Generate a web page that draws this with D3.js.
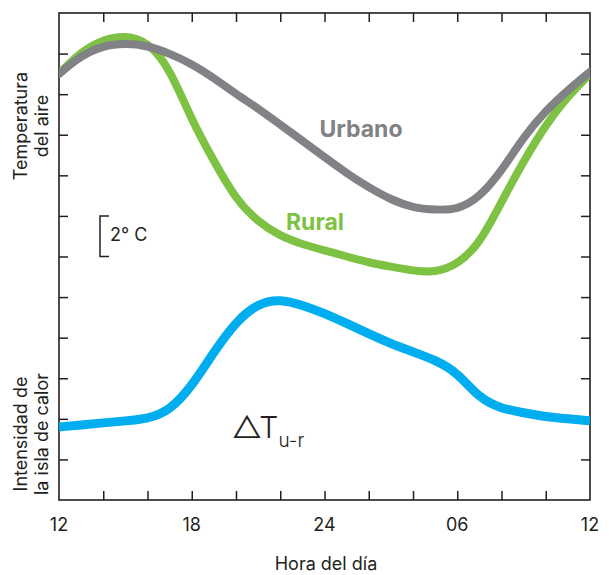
<!DOCTYPE html>
<html>
<head>
<meta charset="utf-8">
<script src="https://cdn.jsdelivr.net/npm/d3@7"></script>
<style>
  body { margin: 0; background: #fff; }
  svg { display: block; font-family: "Inter", "DejaVu Sans", sans-serif; }
</style>
</head>
<body>
<div id="chart"></div>
<script>
// hora del día (12 = mediodía, 36 = mediodía del día siguiente)
const hours = [12, 13, 14, 15, 16, 17, 18, 19, 20, 21, 22, 23, 24,
  25, 26, 27, 28, 29, 30, 31, 32, 33, 34, 35, 36];

// temperatura del aire (°C relativos)
const urbano = [21.0, 21.9, 22.4, 22.5, 22.4, 22.0, 21.5, 20.8, 20.0, 19.3, 18.5, 17.7, 16.9,
  16.1, 15.4, 14.8, 14.4, 14.3, 14.3, 14.9, 16.2, 17.9, 19.2, 20.2, 21.1];
const rural = [21.0, 22.1, 22.7, 22.9, 22.6, 21.3, 18.7, 16.7, 14.8, 13.7, 13.0, 12.6, 12.3,
  12.0, 11.7, 11.5, 11.3, 11.2, 11.6, 12.6, 14.7, 16.7, 18.5, 19.9, 21.0];

// intensidad de la isla de calor (ΔT u-r)
const islaCalor = [3.6, 3.7, 3.8, 3.9, 4.0, 4.4, 5.6, 7.3, 8.8, 9.7, 9.9, 9.6, 9.2,
  8.7, 8.2, 7.7, 7.3, 6.9, 6.3, 5.0, 4.5, 4.3, 4.1, 4.0, 3.9];

const xLabelHours = [12, 18, 24, 30, 36];
const xLabels = ["12", "18", "24", "06", "12"];
const xMinorTicks = [14, 16, 18, 20, 22, 24, 26, 28, 30, 32, 34];
const yMinorTicks = [2, 4, 6, 8, 10, 12, 14, 16, 18, 20, 22];

// 画布设置
const width = 609,
  height = 575,
  margin = { top: 13, right: 19, bottom: 75, left: 59 };

const svg = d3
  .select("#chart")
  .append("svg")
  .attr("width", width)
  .attr("height", height);

const x = d3.scaleLinear().domain([12, 36]).range([margin.left, width - margin.right]);
const y = d3.scaleLinear().domain([0, 24]).range([height - margin.bottom, margin.top]);

const ink = "#231f20";

svg.append("clipPath")
  .attr("id", "plot")
  .append("rect")
  .attr("x", x(12))
  .attr("y", y(24))
  .attr("width", x(36) - x(12))
  .attr("height", y(0) - y(24));

// ticks (inside the frame)
const tick = 9;
svg.append("g")
  .attr("transform", `translate(0,${y(0)})`)
  .call(d3.axisBottom(x).tickValues(xMinorTicks).tickSize(-tick).tickFormat(""));
svg.append("g")
  .attr("transform", `translate(0,${y(24)})`)
  .call(d3.axisTop(x).tickValues(xMinorTicks).tickSize(-tick).tickFormat(""));
svg.append("g")
  .attr("transform", `translate(${x(12)},0)`)
  .call(d3.axisLeft(y).tickValues(yMinorTicks).tickSize(-tick).tickFormat(""));
svg.append("g")
  .attr("transform", `translate(${x(36)},0)`)
  .call(d3.axisRight(y).tickValues(yMinorTicks).tickSize(-tick).tickFormat(""));
svg.selectAll(".domain").remove();
svg.selectAll(".tick line").attr("stroke", ink).attr("stroke-width", 1.5);

// frame
svg.append("rect")
  .attr("x", x(12))
  .attr("y", y(24))
  .attr("width", x(36) - x(12))
  .attr("height", y(0) - y(24))
  .attr("fill", "none")
  .attr("stroke", ink)
  .attr("stroke-width", 1.6);

// x labels
svg.append("g")
  .selectAll("text")
  .data(xLabelHours)
  .join("text")
  .attr("x", (d) => x(d))
  .attr("y", 531)
  .attr("text-anchor", "middle")
  .attr("fill", ink)
  .style("font-size", "18px")
  .text((d, i) => xLabels[i]);

svg.append("text")
  .attr("x", 326)
  .attr("y", 570)
  .attr("text-anchor", "middle")
  .attr("fill", ink)
  .style("font-size", "18px")
  .text("Hora del día");

// y titles
function vTitle(lines, cy) {
  const t = svg.append("text")
    .attr("transform", `translate(27,${cy}) rotate(-90)`)
    .attr("text-anchor", "middle")
    .attr("fill", ink)
    .style("font-size", "18px");
  lines.forEach((l, i) => {
    t.append("tspan").attr("x", 0).attr("dy", i === 0 ? 0 : 21).text(l);
  });
}
vTitle(["Temperatura", "del aire"], 126);
vTitle(["Intensidad de", "la isla de calor"], 434);

// escala 2 °C
const sb = svg.append("g").attr("fill", "none").attr("stroke", ink).attr("stroke-width", 1.5);
sb.append("path").attr("d", d3.line()([[109, y(14)], [100, y(14)], [100, y(12)], [109, y(12)]]));
svg.append("text")
  .attr("x", 110)
  .attr("y", 241)
  .attr("fill", ink)
  .style("font-size", "18px")
  .text("2° C");

// 曲线
const line = d3.line()
  .x((d, i) => x(hours[i]))
  .y((d) => y(d))
  .curve(d3.curveBasis);

const curves = svg.append("g").attr("clip-path", "url(#plot)").attr("fill", "none");

curves.append("path")
  .datum(rural)
  .attr("d", line)
  .attr("stroke", "#7dc242")
  .attr("stroke-width", 8)
  .attr("stroke-linecap", "round");

curves.append("path")
  .datum(urbano)
  .attr("d", line)
  .attr("stroke", "#808285")
  .attr("stroke-width", 8)
  .attr("stroke-linecap", "round");

curves.append("path")
  .datum(islaCalor)
  .attr("d", line)
  .attr("stroke", "#00aeef")
  .attr("stroke-width", 9);

// series labels
svg.append("text")
  .attr("x", 361)
  .attr("y", 137)
  .attr("text-anchor", "middle")
  .attr("fill", "#808285")
  .style("font-size", "23px")
  .style("font-weight", "bold")
  .text("Urbano");

svg.append("text")
  .attr("x", 315)
  .attr("y", 230)
  .attr("text-anchor", "middle")
  .attr("fill", "#7dc242")
  .style("font-size", "23px")
  .style("font-weight", "bold")
  .text("Rural");

const dt = svg.append("text")
  .attr("x", 232)
  .attr("y", 438)
  .attr("fill", ink)
  .style("font-size", "30px")
  .style("font-weight", 300);
dt.append("tspan").text("△T");
dt.append("tspan").attr("dy", 9).style("font-size", "19px").text("u-r");
</script>
</body>
</html>
